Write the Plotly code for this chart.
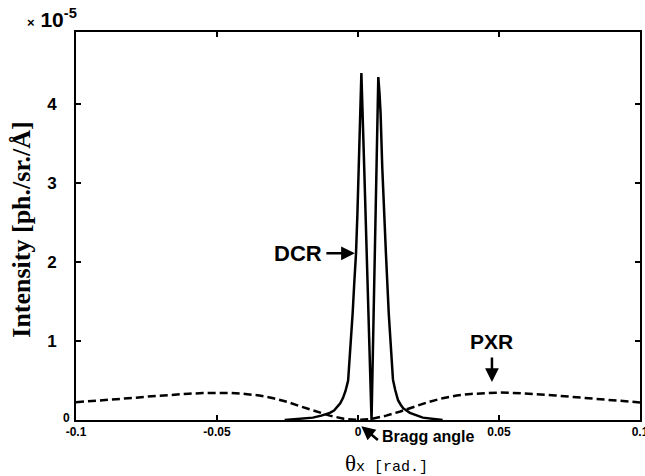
import plotly.graph_objects as go

# ---- data (intensity in units of 1e-5) ----
pxr_x = [-0.1, -0.095, -0.09, -0.085, -0.08, -0.075, -0.07, -0.065, -0.06, -0.055,
         -0.05, -0.045, -0.04, -0.035, -0.03, -0.025, -0.02, -0.015, -0.01, -0.005,
         0.0, 0.005, 0.01, 0.015, 0.02, 0.025, 0.03, 0.035, 0.04, 0.045,
         0.05, 0.055, 0.06, 0.065, 0.07, 0.075, 0.08, 0.085, 0.09, 0.095, 0.1]
pxr_y = [0.225, 0.237, 0.25, 0.265, 0.279, 0.295, 0.309, 0.322, 0.333, 0.341,
         0.345, 0.343, 0.33, 0.31, 0.275, 0.228, 0.168, 0.108, 0.055, 0.015,
         0.0, 0.015, 0.055, 0.108, 0.168, 0.228, 0.275, 0.31, 0.33, 0.343,
         0.347, 0.343, 0.335, 0.323, 0.31, 0.295, 0.28, 0.265, 0.25, 0.237, 0.222]

dcr_x = [-0.026, -0.02, -0.016, -0.013, -0.010, -0.0085, -0.0075, -0.0063, -0.0053,
         -0.0044, -0.0035, -0.0026, -0.0019, -0.0013, -0.0007, -0.0002, 0.0003,
         0.0007, 0.0010, 0.0012, 0.0022, 0.0036, 0.0048, 0.0056, 0.0064, 0.0070,
         0.0072, 0.0076, 0.0080, 0.0086, 0.0092, 0.0099, 0.0109, 0.0116, 0.0124,
         0.0132, 0.0142, 0.0152, 0.016, 0.0184, 0.023, 0.030]
dcr_y = [0.0, 0.015, 0.03, 0.055, 0.09, 0.12, 0.16, 0.21, 0.28,
         0.37, 0.5, 0.92, 1.35, 1.75, 2.11, 2.62, 3.25,
         3.89, 4.2, 4.39, 3.2, 1.6, 0.0, 1.45, 2.95, 4.05,
         4.34, 4.15, 3.89, 3.2, 2.62, 2.11, 1.35, 0.92, 0.51,
         0.38, 0.25, 0.19, 0.15, 0.09, 0.03, 0.0]

x_ticks = [-0.1, -0.05, 0, 0.05, 0.1]
x_tick_text = ["-0.1", "-0.05", "0", "0.05", "0.1"]
y_ticks = [0, 1, 2, 3, 4]
y_tick_text = ["", "1", "2", "3", "4"]

HEL = "Liberation Sans"
SERIF = "Liberation Serif"
MONO = "Liberation Mono"

fig = go.Figure()
fig.add_trace(go.Scatter(x=pxr_x, y=pxr_y, mode="lines",
                         line=dict(color="black", width=2.5, dash="8px,4px"),
                         showlegend=False))
fig.add_trace(go.Scatter(x=dcr_x, y=dcr_y, mode="lines",
                         line=dict(color="black", width=2.5),
                         showlegend=False))

fig.update_layout(
    width=645, height=476,
    margin=dict(l=76, r=5, t=32, b=56),
    paper_bgcolor="white", plot_bgcolor="white",
    xaxis=dict(range=[-0.1, 0.1], tickvals=x_ticks, ticktext=x_tick_text,
               ticks="inside", ticklen=5, tickwidth=1.5, tickcolor="black",
               showline=True, linecolor="black", linewidth=2, mirror="ticks",
               showgrid=False, zeroline=False, automargin=False,
               ticklabeloverflow="allow",
               tickfont=dict(family=HEL, size=12, color="black", weight="bold")),
    yaxis=dict(range=[0, 4.91], tickvals=y_ticks, ticktext=y_tick_text,
               ticks="inside", ticklen=5, tickwidth=1.5, tickcolor="black",
               showline=True, linecolor="black", linewidth=2, mirror="ticks",
               showgrid=False, zeroline=False, ticklabelstandoff=14,
               automargin=False,
               tickfont=dict(family=HEL, size=17, color="black", weight="bold")),
)

# small "0" y-tick label
fig.add_annotation(x=0, y=0.006, xref="paper", yref="paper", text="<b>0</b>",
                   showarrow=False, xanchor="right", yanchor="middle",
                   xshift=-4, font=dict(family=HEL, size=12, color="black"))

# exponent
fig.add_annotation(x=-0.043, y=1.036, xref="paper", yref="paper",
                   text="<b><span style='font-size:13px'>×</span> 10<sup>-5</sup></b>",
                   showarrow=False, xanchor="center", yanchor="middle",
                   font=dict(family=HEL, size=21, color="black"))

# axis titles
fig.add_annotation(x=-0.096, y=0.49, xref="paper", yref="paper",
                   text="<b>Intensity [ph./sr./Å]</b>", textangle=-90,
                   showarrow=False, xanchor="center", yanchor="middle",
                   font=dict(family=SERIF, size=26, color="black"))
fig.add_annotation(x=0.55, y=-0.111, xref="paper", yref="paper",
                   text="θ<span style='font-family:Liberation Mono;font-size:15px'>x [rad.]</span>",
                   showarrow=False, xanchor="center", yanchor="middle",
                   font=dict(family=SERIF, size=23, color="black"))

# DCR label with arrow
fig.add_annotation(x=-0.0011, y=2.11, xref="x", yref="y", ax=-30, ay=0,
                   text="", showarrow=True, arrowhead=2, arrowsize=1.1,
                   arrowwidth=2.5, arrowcolor="black")
fig.add_annotation(x=-0.0115, y=2.11, xref="x", yref="y", text="<b>DCR</b>",
                   showarrow=False, xanchor="right", yanchor="middle", xshift=-2,
                   font=dict(family=HEL, size=22, color="black"))

# PXR label with arrow
fig.add_annotation(x=0.0475, y=0.48, xref="x", yref="y", ax=0, ay=-26,
                   text="", showarrow=True, arrowhead=2, arrowsize=1.1,
                   arrowwidth=2.5, arrowcolor="black")
fig.add_annotation(x=0.0475, y=0.82, xref="x", yref="y", text="<b>PXR</b>",
                   showarrow=False, xanchor="center", yanchor="bottom",
                   font=dict(family=HEL, size=21, color="black"))

# Bragg angle label with arrow
fig.add_annotation(x=0.0012, y=-0.016, xref="x", yref="paper", ax=18, ay=15,
                   text="", showarrow=True, arrowhead=2, arrowsize=1.1,
                   arrowwidth=2.5, arrowcolor="black")
fig.add_annotation(x=0.0078, y=-0.042, xref="x", yref="paper", text="<b>Bragg angle</b>",
                   showarrow=False, xanchor="left", yanchor="middle",
                   font=dict(family=HEL, size=16, color="black"))

fig.write_html("out.html", config={"displayModeBar": False},
               post_script="document.body.style.margin='0px';document.body.style.overflow='hidden';")
